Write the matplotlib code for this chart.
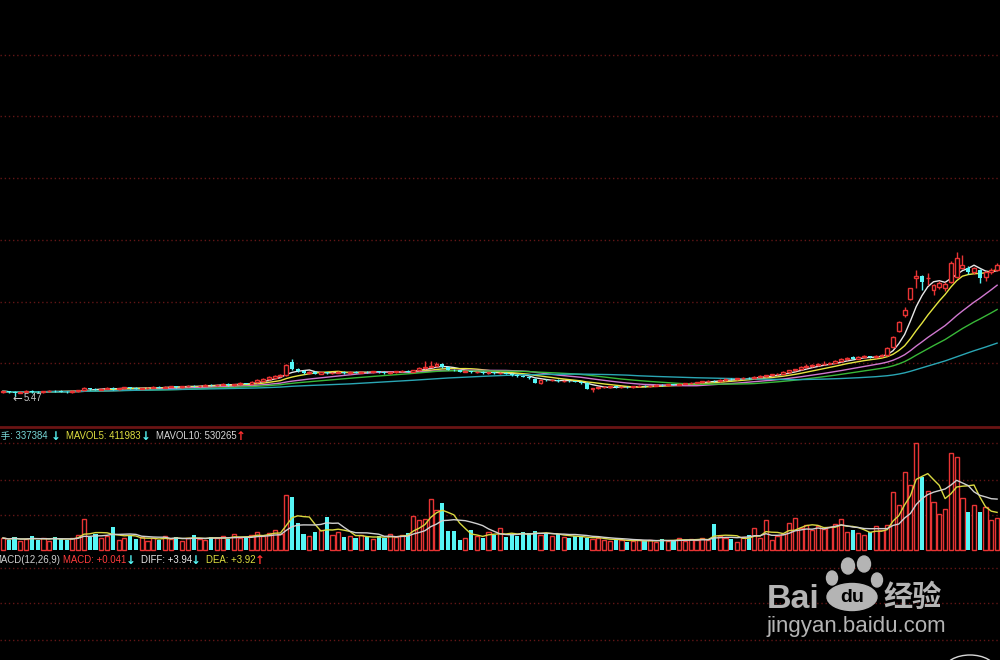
import matplotlib
matplotlib.use("Agg")
import matplotlib.pyplot as plt
from matplotlib.patches import Ellipse
import numpy as np
import pandas as pd

plt.rcParams['font.family'] = ['Liberation Sans', 'Noto Sans CJK SC', 'DejaVu Sans']

# daily candles (price)
open_ = [5.60, 5.62, 5.60, 5.58, 5.61, 5.63, 5.60, 5.59, 5.62, 5.64,
         5.63, 5.61, 5.60, 5.63, 5.65, 5.72, 5.70, 5.68, 5.71, 5.73,
         5.70, 5.72, 5.75, 5.73, 5.71, 5.72, 5.74, 5.76, 5.74, 5.77,
         5.78, 5.76, 5.79, 5.80, 5.78, 5.81, 5.83, 5.82, 5.84, 5.86,
         5.83, 5.85, 5.88, 5.87, 5.92, 5.97, 6.01, 6.07, 6.11, 6.15,
         6.56, 6.35, 6.28, 6.22, 6.25, 6.20, 6.24, 6.21, 6.23, 6.26,
         6.22, 6.25, 6.23, 6.26, 6.24, 6.27, 6.25, 6.22, 6.24, 6.27,
         6.29, 6.26, 6.30, 6.38, 6.42, 6.45, 6.52, 6.40, 6.33, 6.30,
         6.26, 6.28, 6.24, 6.25, 6.22, 6.24, 6.21, 6.23, 6.20, 6.15,
         6.12, 6.10, 6.02, 5.89, 6.00, 5.98, 5.99, 5.96, 5.97, 5.95,
         5.93, 5.89, 5.70, 5.72, 5.75, 5.76, 5.78, 5.75, 5.77, 5.76,
         5.78, 5.80, 5.79, 5.81, 5.83, 5.82, 5.85, 5.84, 5.87, 5.88,
         5.90, 5.92, 5.95, 5.97, 5.96, 5.99, 6.02, 6.01, 6.04, 6.06,
         6.05, 6.10, 6.12, 6.14, 6.17, 6.20, 6.25, 6.30, 6.34, 6.40,
         6.44, 6.48, 6.50, 6.52, 6.55, 6.60, 6.66, 6.74, 6.68, 6.74,
         6.76, 6.73, 6.77, 6.80, 7.06, 7.58, 8.10, 8.62, 9.30, 9.37,
         9.30, 8.92, 9.01, 8.98, 9.18, 9.34, 9.63, 9.63, 9.50, 9.57,
         9.34, 9.50, 9.57]
close = [5.62, 5.60, 5.58, 5.61, 5.63, 5.60, 5.59, 5.62, 5.64, 5.63,
         5.61, 5.60, 5.63, 5.66, 5.72, 5.70, 5.68, 5.71, 5.73, 5.70,
         5.72, 5.75, 5.73, 5.71, 5.72, 5.74, 5.76, 5.74, 5.77, 5.78,
         5.76, 5.79, 5.80, 5.78, 5.81, 5.83, 5.82, 5.84, 5.86, 5.83,
         5.85, 5.88, 5.87, 5.93, 5.98, 6.02, 6.08, 6.12, 6.15, 6.48,
         6.35, 6.28, 6.22, 6.25, 6.20, 6.24, 6.21, 6.23, 6.26, 6.22,
         6.25, 6.23, 6.26, 6.24, 6.27, 6.25, 6.22, 6.24, 6.27, 6.29,
         6.26, 6.30, 6.38, 6.42, 6.45, 6.50, 6.40, 6.33, 6.30, 6.26,
         6.28, 6.24, 6.25, 6.22, 6.24, 6.21, 6.23, 6.20, 6.15, 6.12,
         6.10, 6.05, 5.90, 6.00, 5.98, 5.99, 5.96, 5.97, 5.95, 5.93,
         5.88, 5.71, 5.72, 5.75, 5.76, 5.78, 5.75, 5.77, 5.76, 5.78,
         5.80, 5.79, 5.81, 5.83, 5.82, 5.85, 5.84, 5.87, 5.88, 5.90,
         5.92, 5.95, 5.97, 5.96, 5.99, 6.02, 6.01, 6.04, 6.06, 6.05,
         6.10, 6.12, 6.14, 6.17, 6.20, 6.25, 6.30, 6.34, 6.40, 6.44,
         6.48, 6.50, 6.52, 6.55, 6.60, 6.66, 6.72, 6.68, 6.74, 6.76,
         6.73, 6.77, 6.80, 7.03, 7.39, 7.88, 8.26, 8.98, 9.37, 9.18,
         9.32, 9.08, 9.14, 9.11, 9.80, 9.96, 9.73, 9.50, 9.63, 9.31,
         9.50, 9.57, 9.73]
high = [5.64, 5.64, 5.62, 5.63, 5.65, 5.65, 5.62, 5.64, 5.66, 5.66,
        5.65, 5.63, 5.65, 5.68, 5.76, 5.74, 5.72, 5.73, 5.75, 5.75,
        5.74, 5.77, 5.77, 5.75, 5.74, 5.76, 5.78, 5.78, 5.79, 5.80,
        5.80, 5.81, 5.83, 5.82, 5.83, 5.86, 5.85, 5.86, 5.89, 5.88,
        5.87, 5.91, 5.90, 5.96, 6.01, 6.06, 6.12, 6.16, 6.19, 6.52,
        6.68, 6.38, 6.31, 6.27, 6.27, 6.26, 6.26, 6.25, 6.29, 6.28,
        6.27, 6.27, 6.28, 6.28, 6.29, 6.29, 6.27, 6.26, 6.29, 6.32,
        6.31, 6.33, 6.41, 6.60, 6.62, 6.56, 6.55, 6.42, 6.35, 6.32,
        6.30, 6.29, 6.27, 6.27, 6.26, 6.26, 6.25, 6.25, 6.22, 6.17,
        6.14, 6.12, 6.04, 6.03, 6.02, 6.01, 6.01, 5.99, 5.99, 5.97,
        5.95, 5.91, 5.74, 5.77, 5.78, 5.80, 5.80, 5.79, 5.79, 5.80,
        5.82, 5.82, 5.83, 5.85, 5.85, 5.87, 5.87, 5.89, 5.90, 5.92,
        5.94, 5.97, 5.99, 5.99, 6.01, 6.04, 6.04, 6.06, 6.08, 6.08,
        6.12, 6.14, 6.16, 6.19, 6.22, 6.27, 6.32, 6.36, 6.43, 6.52,
        6.50, 6.53, 6.62, 6.58, 6.63, 6.69, 6.75, 6.76, 6.77, 6.79,
        6.78, 6.80, 6.84, 7.06, 7.41, 7.90, 8.36, 8.98, 9.57, 9.40,
        9.47, 9.12, 9.20, 9.18, 9.85, 10.15, 10.06, 9.70, 9.68, 9.60,
        9.55, 9.62, 9.80]
low = [5.58, 5.58, 5.47, 5.56, 5.59, 5.58, 5.57, 5.57, 5.60, 5.61,
       5.59, 5.58, 5.58, 5.61, 5.63, 5.68, 5.66, 5.66, 5.69, 5.68,
       5.68, 5.70, 5.71, 5.69, 5.69, 5.70, 5.72, 5.72, 5.72, 5.75,
       5.74, 5.74, 5.77, 5.76, 5.76, 5.79, 5.80, 5.80, 5.82, 5.81,
       5.81, 5.83, 5.85, 5.85, 5.90, 5.95, 5.99, 6.05, 6.09, 6.13,
       6.30, 6.26, 6.20, 6.20, 6.18, 6.18, 6.19, 6.19, 6.21, 6.20,
       6.20, 6.21, 6.21, 6.22, 6.22, 6.23, 6.20, 6.20, 6.22, 6.25,
       6.24, 6.24, 6.28, 6.36, 6.40, 6.43, 6.38, 6.31, 6.28, 6.24,
       6.24, 6.22, 6.22, 6.20, 6.20, 6.19, 6.19, 6.18, 6.13, 6.10,
       6.08, 6.03, 5.88, 5.87, 5.96, 5.96, 5.94, 5.94, 5.93, 5.91,
       5.86, 5.69, 5.60, 5.70, 5.73, 5.74, 5.73, 5.73, 5.74, 5.74,
       5.76, 5.77, 5.77, 5.79, 5.80, 5.80, 5.82, 5.82, 5.85, 5.86,
       5.88, 5.90, 5.93, 5.94, 5.94, 5.97, 5.99, 5.99, 6.02, 6.03,
       6.03, 6.08, 6.10, 6.12, 6.15, 6.18, 6.23, 6.28, 6.32, 6.38,
       6.42, 6.46, 6.48, 6.50, 6.53, 6.58, 6.64, 6.66, 6.66, 6.72,
       6.71, 6.71, 6.75, 6.78, 7.04, 7.55, 8.05, 8.60, 8.98, 8.92,
       9.08, 8.75, 8.95, 8.90, 9.15, 9.30, 9.60, 9.45, 9.45, 9.14,
       9.20, 9.45, 9.55]
# volume in 手
volume = [126000, 105000, 136500, 94500, 115500, 147000, 105000, 126000, 94500, 136500,
          115500, 105000, 126000, 157500, 325500, 136500, 168000, 126000, 147000, 241500,
          105000, 126000, 147000, 115500, 136500, 94500, 126000, 105000, 147000, 115500,
          136500, 94500, 126000, 157500, 115500, 105000, 136500, 126000, 147000, 115500,
          168000, 126000, 136500, 157500, 189000, 147000, 178500, 210000, 168000, 577500,
          556500, 283500, 168000, 147000, 189000, 210000, 346500, 157500, 189000, 136500,
          147000, 126000, 157500, 136500, 115500, 147000, 126000, 168000, 136500, 157500,
          178500, 357000, 315000, 325500, 535500, 420000, 493500, 199500, 199500, 105000,
          126000, 210000, 147000, 126000, 189000, 157500, 231000, 136500, 168000, 147000,
          189000, 178500, 199500, 157500, 178500, 147000, 168000, 136500, 126000, 147000,
          136500, 126000, 115500, 126000, 105000, 94500, 115500, 105000, 84000, 94500,
          105000, 94500, 105000, 84000, 115500, 94500, 105000, 126000, 94500, 115500,
          105000, 126000, 105000, 273000, 147000, 126000, 115500, 84000, 136500, 157500,
          231000, 126000, 315000, 105000, 147000, 168000, 283500, 336000, 231000, 262500,
          210000, 252000, 220500, 241500, 273000, 325500, 189000, 210000, 178500, 157500,
          189000, 252000, 210000, 262500, 609000, 472500, 819000, 682500, 1123500, 766500,
          619500, 504000, 378000, 430500, 1018500, 976500, 546000, 399000, 472500, 399000,
          451500, 315000, 337384]

ma_days = [5, 10, 20, 30, 60]
ma_colors = ['#e8e8e8', '#e6e640', '#d078d0', '#38b838', '#2aa6b4']
vol_ma_days = [5, 10]
vol_ma_colors = ['#d8d840', '#d0d0d0']

RED = '#e83434'
CYAN = '#56f6f6'
GRID = '#621616'

open_ = np.array(open_)
close = np.array(close)
high = np.array(high)
low = np.array(low)
volume = np.array(volume, dtype=float)
x = np.arange(len(close))
up = close >= open_

fig = plt.figure(figsize=(10, 6.6), dpi=100, facecolor='black')

# background layer in pixel coordinates for the dotted grid
bg = fig.add_axes([0, 0, 1, 1], zorder=0)
bg.set_xlim(0, 1000)
bg.set_ylim(660, 0)
bg.set_facecolor('black')
bg.axis('off')
for gy in [55, 116, 178, 240, 302, 363, 443, 480, 515, 568, 603, 640]:
    bg.axhline(gy, color=GRID, lw=1, ls=(0, (1, 2)))
bg.axhline(427, color='#6a1414', lw=2)

xlim = (-0.52, 172.5)

# price panel
ax = fig.add_axes([0, 1 - 427 / 660, 1, 427 / 660], zorder=1)
ax.patch.set_alpha(0)
ax.set_xlim(*xlim)
ax.set_ylim(4.462, 18.348)
ax.axis('off')

cs = pd.Series(close)
for d, c in zip(ma_days, ma_colors):
    ax.plot(x, cs.rolling(d, min_periods=1).mean(), color=c, lw=1, zorder=2)

lo_b = np.minimum(open_, close)
hi_b = np.maximum(open_, close)
w = 0.68
ax.vlines(x[up], low[up], lo_b[up], color=RED, lw=1, zorder=3)
ax.vlines(x[up], hi_b[up], high[up], color=RED, lw=1, zorder=3)
ax.bar(x[up], hi_b[up] - lo_b[up], bottom=lo_b[up], width=w,
       facecolor='black', edgecolor=RED, lw=1, zorder=4)
ax.vlines(x[~up], low[~up], high[~up], color=CYAN, lw=1, zorder=3)
ax.bar(x[~up], hi_b[~up] - lo_b[~up], bottom=lo_b[~up], width=w,
       color=CYAN, lw=0, zorder=4)

# volume panel
vax = fig.add_axes([0, 1 - 552 / 660, 1, 125 / 660], zorder=1)
vax.patch.set_alpha(0)
vax.set_xlim(*xlim)
vax.set_ylim(-21000, 1291500)
vax.axis('off')
vax.bar(x[up], volume[up], width=0.72, facecolor='black', edgecolor=RED, lw=1, zorder=2)
vax.bar(x[~up], volume[~up], width=0.72, color=CYAN, lw=0, zorder=2)
vs = pd.Series(volume)
for d, c in zip(vol_ma_days, vol_ma_colors):
    vax.plot(x, vs.rolling(d, min_periods=1).mean(), color=c, lw=1, zorder=3)

# text and watermark layer
fg = fig.add_axes([0, 0, 1, 1], zorder=5)
fg.patch.set_alpha(0)
fg.set_xlim(0, 1000)
fg.set_ylim(660, 0)
fg.axis('off')

fs = 6.9
def seg(xp, yp, s, col):
    fg.text(xp, yp, s, color=col, fontsize=fs, ha='left', va='center')

def arrow(xp, yp, s, col):
    fg.text(xp, yp, s, color=col, fontsize=8.5, fontweight='bold', ha='center', va='center',
            family=['DejaVu Sans'])

seg(-9, 436, '总手: 337384', '#78d8d8')
arrow(56, 436, '↓', CYAN)
seg(66, 436, 'MAVOL5: 411983', '#e0e040')
arrow(146, 436, '↓', CYAN)
seg(156, 436, 'MAVOL10: 530265', '#d8d8d8')
arrow(241, 436, '↑', '#ff3030')

seg(-7, 560, 'MACD(12,26,9)', '#d0d0d0')
seg(63, 560, 'MACD: +0.041', '#ff3c3c')
arrow(131, 560, '↓', CYAN)
seg(141, 560, 'DIFF: +3.94', '#e8e8e8')
arrow(196, 560, '↓', CYAN)
seg(206, 560, 'DEA: +3.92', '#e0e040')
arrow(260, 560, '↑', '#ff3030')

fg.text(12, 398, '←', color='#c8c8c8', fontsize=8.5, ha='left', va='center', family=['DejaVu Sans'])
seg(24, 398, '5.47', '#c8c8c8')

# baidu watermark
WM = '#b4b4b4'
fg.text(767, 608, 'Bai', color=WM, fontsize=24.5, fontweight='bold', ha='left', va='baseline')
for cx, cy, ew, eh in [(848, 566, 13, 16), (864, 564, 13, 16), (832, 578, 11, 14), (877, 580, 11, 14)]:
    fg.add_patch(Ellipse((cx, cy), ew, eh, color=WM))
fg.add_patch(Ellipse((852, 597), 50, 27, color=WM))
fg.text(852, 598, 'du', color='black', fontsize=14, fontweight='bold', ha='center', va='center')
fg.text(883, 606, '经验', color=WM, fontsize=21, fontweight='bold', ha='left', va='baseline',
        family=['Noto Sans CJK SC', 'DejaVu Sans'])
fg.text(767, 632, 'jingyan.baidu.com', color=WM, fontsize=16, ha='left', va='baseline')
fg.add_patch(Ellipse((970, 669), 50, 28, fill=False, edgecolor='#d8d8d8', lw=1))

fig.savefig('out.png', dpi=100, facecolor='black')
